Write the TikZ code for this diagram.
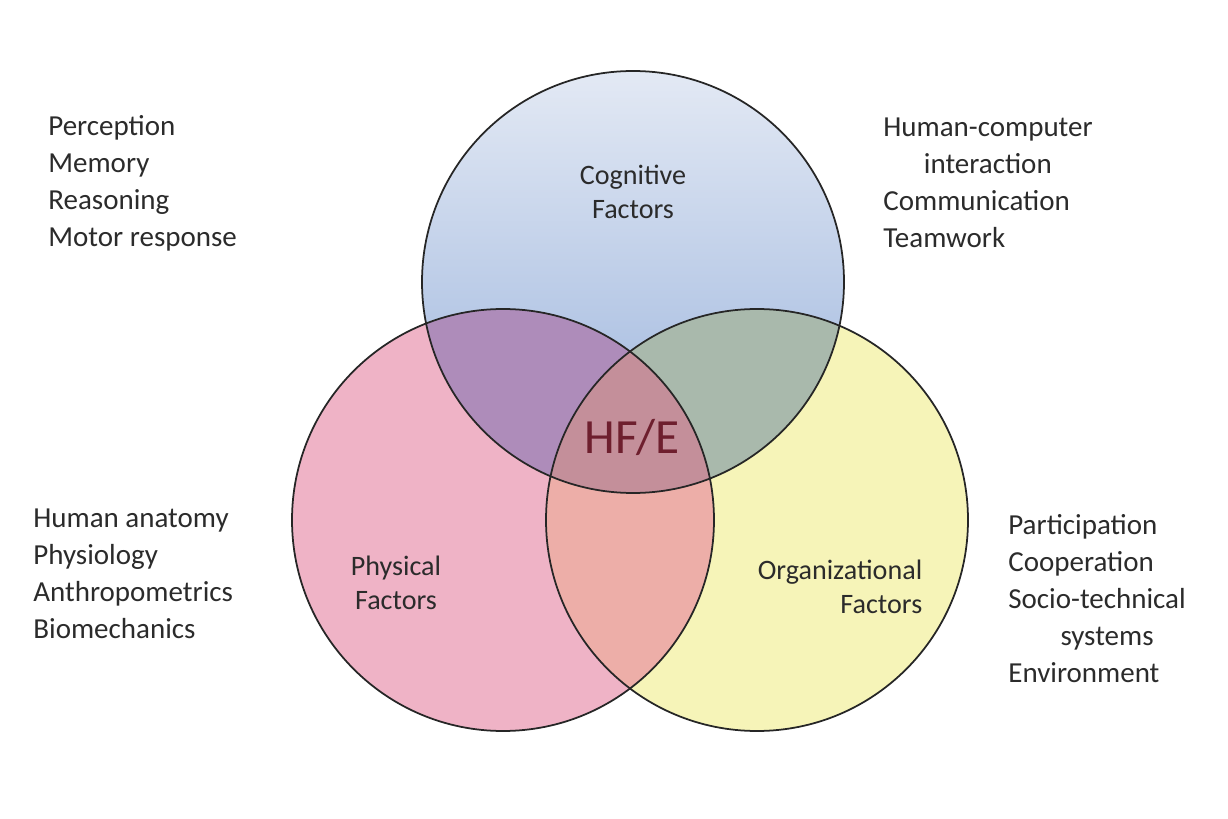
\documentclass[tikz,border=0pt]{standalone}
\usepackage{fontspec}
\setmainfont{Carlito}
\usetikzlibrary{positioning}
\definecolor{pinkfill}{HTML}{EFB3C6}
\definecolor{yellowfill}{HTML}{F6F4B8}
\definecolor{bluetop}{HTML}{E3E9F4}
\definecolor{bluebot}{HTML}{98B2DC}
\definecolor{purplefill}{HTML}{AE8CBA}
\definecolor{greenfill}{HTML}{A9B9AC}
\definecolor{salmonfill}{HTML}{EDAEA8}
\definecolor{centerfill}{HTML}{C48F9A}
\definecolor{txt}{HTML}{2B2B2B}
\definecolor{hfe}{HTML}{6E1F2E}
\begin{document}
\begin{tikzpicture}[
	list text/.style={anchor=north west, align=left, text=txt, font=\fontsize{16.5}{21}\selectfont, inner sep=0pt},
	circ label/.style={align=center, text=txt, font=\fontsize{16}{19.5}\selectfont},
	ring/.style={draw=black!85, line width=1pt},
]
\useasboundingbox (0,0) rectangle (24.56,16.36);
\def\rad{4.22}
\coordinate (cog) at (12.66,10.72);
\coordinate (phy) at (10.06,5.96);
\coordinate (org) at (15.14,5.96);
% base fills
\fill [pinkfill] (phy) circle (\rad);
\fill [yellowfill] (org) circle (\rad);
\shade [top color=bluetop, bottom color=bluebot] (cog) circle (\rad);
% overlaps
\begin{scope}
	\clip (phy) circle (\rad);
	\fill [purplefill] (cog) circle (\rad);
	\fill [salmonfill] (org) circle (\rad);
\end{scope}
\begin{scope}
	\clip (org) circle (\rad);
	\fill [greenfill] (cog) circle (\rad);
	\clip (phy) circle (\rad);
	\fill [centerfill] (cog) circle (\rad);
\end{scope}
% outlines
\draw [ring] (cog) circle (\rad);
\draw [ring] (phy) circle (\rad);
\draw [ring] (org) circle (\rad);
% labels
\node [circ label] (cogLabel) at (12.66,12.52) {Cognitive\\Factors};
\node [circ label] (phyLabel) at (7.92,4.7) {Physical\\Factors};
\node [circ label, align=right] (orgLabel) at (16.8,4.62) {Organizational\\Factors};
\node [text=hfe, font=\fontsize{28}{30}\selectfont] (hfeLabel) at (12.64,7.62) {HF/E};
% lists
\node [list text] (cogList) at (0.96,14.05) {Perception\\Memory\\Reasoning\\Motor response};
\node [list text] (orgList) at (17.66,14.0) {Human-computer\\\hspace{1.4em}interaction\\Communication\\Teamwork};
\node [list text] (phyList) at (0.66,6.18) {Human anatomy\\Physiology\\Anthropometrics\\Biomechanics};
\node [list text] (envList) at (20.16,6.08) {Participation\\Cooperation\\Socio-technical\\\hspace{1.8em}systems\\Environment};
\end{tikzpicture}
\end{document}
